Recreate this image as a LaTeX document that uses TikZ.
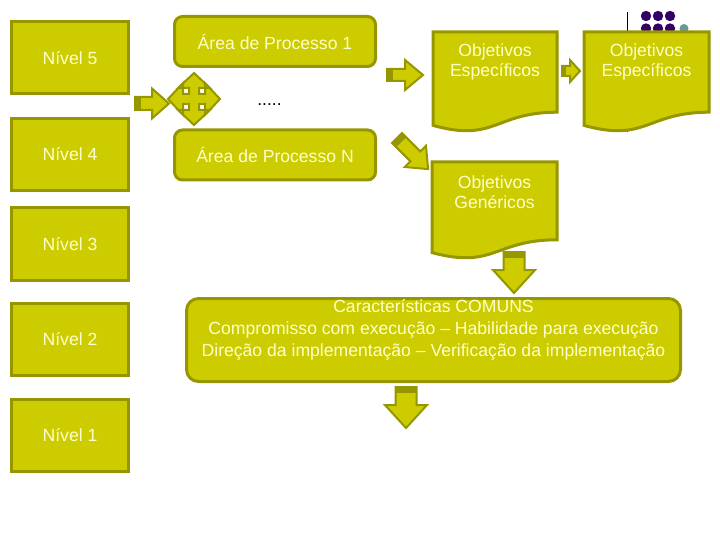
\documentclass[tikz,border=0pt]{standalone}
\usepackage{fontspec}
\setmainfont{Liberation Sans}
\definecolor{olfill}{RGB}{204,204,0}
\definecolor{olline}{RGB}{150,150,0}
\definecolor{cream}{RGB}{255,255,204}
\definecolor{dotpurple}{RGB}{51,0,102}
\definecolor{dotteal}{RGB}{102,153,153}
\tikzset{
  pics/blockarrow/.style n args={5}{code={
    \fill[olfill] (0,-#2) -- ({#1-#4},-#2) -- ({#1-#4},-#3) -- (#1,0) -- ({#1-#4},#3) -- ({#1-#4},#2) -- (0,#2) -- cycle;
    \fill[olline] (0,-#2) rectangle (#5,#2);
    \draw[olline, line width=2pt, line join=miter] (0,-#2) -- ({#1-#4},-#2) -- ({#1-#4},-#3) -- (#1,0) -- ({#1-#4},#3) -- ({#1-#4},#2) -- (0,#2) -- cycle;
  }},
  pics/docshape/.style n args={2}{code={
    \draw[draw=olline, fill=olfill, line width=3pt, line join=miter] (0,0) -- (#1,0) -- (#1,{0.802*#2}) .. controls ({0.5*#1},{0.802*#2}) and ({0.5*#1},{1.107*#2}) .. (0,{0.934*#2}) -- cycle;
  }}
}
\begin{document}
\begin{tikzpicture}[x=1pt,y=-1pt,
  txt/.style={text=cream, font=\fontsize{17.6}{21}\selectfont, align=center, inner sep=0pt},
  box/.style={txt, draw=olline, fill=olfill, line width=3pt},
  level/.style={box, minimum width=117pt, minimum height=72pt},
  areabox/.style={box, rounded corners=8pt, minimum width=201pt, minimum height=50pt},
  bigbox/.style={draw=olline, fill=olfill, line width=3pt, rounded corners=12pt, minimum width=494pt, minimum height=83pt, inner sep=0pt},
  dotp/.style={fill=dotpurple},
  dott/.style={fill=dotteal}
]
\useasboundingbox (0,0) rectangle (720,540);

% decorative line and dots (behind)
\coordinate (vlt) at (627,12);
\coordinate (vlb) at (627,132);
\draw[black, line width=1pt] (vlt) -- (vlb);
\foreach \xx in {646,658,670}{
  \fill[dotp] (\xx,16) circle (5.2);
  \fill[dotp] (\xx,28.5) circle (5.2);
}
\fill[dott] (684,28.5) circle (4.5);

% levels
\node[level] (n5) at (70,58)  {Nível 5};
\node[level] (n4) at (70,154.5) {Nível 4};
\node[level] (n3) at (70,244) {Nível 3};
\node[level] (n2) at (70,339) {Nível 2};
\node[level] (n1) at (70,435) {Nível 1};

% process areas
\node[areabox] (a1) at (275,41.5) {Área de Processo 1};
\node[areabox] (an) at (275,155) {Área de Processo N};
\node[font=\fontsize{17.6}{21}\selectfont, inner sep=0pt, anchor=base] (dots) at (269.5,106) {.....};

% documents
\pic (oe1) at (433,32) {docshape={124}{100}};
\pic (oe2) at (584,32) {docshape={125}{100}};
\pic (og)  at (432,162) {docshape={125}{97}};
\node[txt, font=\fontsize{17.6}{20.5}\selectfont] (toe1) at (495,62) {Objetivos\\Específicos};
\node[txt, font=\fontsize{17.6}{20.5}\selectfont] (toe2) at (646.5,62) {Objetivos\\Específicos};
\node[txt, font=\fontsize{17.6}{20.5}\selectfont] (tog) at (494.5,192) {Objetivos\\Genéricos};

% common characteristics
\node[bigbox] (car) at (433.5,340) {};
\node[txt, font=\fontsize{17.6}{21.8}\selectfont] (tcar) at (433.5,330)
  {Características COMUNS\\Compromisso com execução – Habilidade para execução\\Direção da implementação – Verificação da implementação};

% block arrows
\pic (arIn) at (135,103.5) {blockarrow={34}{6.5}{15}{17}{6}};
\pic (arA1) at (387,75) {blockarrow={36}{6}{15}{18}{6}};
\pic (arOE) at (562,71) {blockarrow={18}{5}{11}{10}{4}};
\pic[rotate=-45] (arAN) at (397,138) {blockarrow={44}{7}{15}{18}{6}};
\pic[rotate=-90] (arOG) at (514,252) {blockarrow={41}{10.5}{21}{23}{6}};
\pic[rotate=-90] (arCA) at (406,387) {blockarrow={41}{10.5}{21}{23}{6}};

% four-way arrow
\begin{scope}[shift={(194,99)}]
\draw[olline, fill=olfill, line width=2pt, line join=miter]
  (26,0) -- (11,16) -- (11,5) -- (5,5) -- (5,11) -- (16,11) -- (0,26) -- (-16,11) -- (-5,11) -- (-5,5)
  -- (-11,5) -- (-11,16) -- (-26,0) -- (-11,-16) -- (-11,-5) -- (-5,-5) -- (-5,-11) -- (-16,-11) -- (0,-26)
  -- (16,-11) -- (5,-11) -- (5,-5) -- (11,-5) -- (11,-16) -- cycle;
\coordinate (quad) at (0,0);
\end{scope}
\end{tikzpicture}
\end{document}
